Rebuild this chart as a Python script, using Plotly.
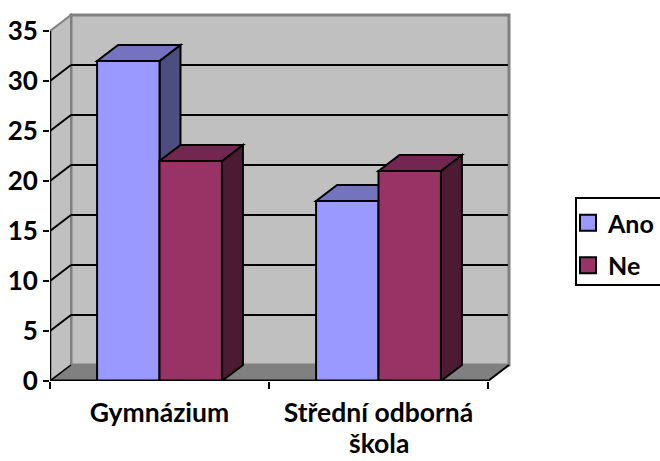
import plotly.graph_objects as go

categories = ["Gymnázium", "Střední odborná"]
category_second_line = "škola"
series_names = ["Ano", "Ne"]
ano_values = [32, 18]
ne_values = [22, 21]
y_ticks = [0, 5, 10, 15, 20, 25, 30, 35]

FONT = "Lato, 'Open Sans', sans-serif"
ANO, ANO_TOP, ANO_SIDE = "#9999FF", "#7373BF", "#4D4D80"
NE, NE_TOP, NE_SIDE = "#993366", "#732650", "#4D1A33"
WALL, FLOOR = "#C0C0C0", "#808080"

X0, X1 = -0.5, 1.5
DX, DY = 21 / 219, 1.6
BARGAP = 0.43
BW = (1 - BARGAP) / 2
FIG_W, FIG_H = 660, 461


def poly(pts, fill, line="black", width=2, layer="below"):
    path = "M" + " L".join(f"{x},{y}" for x, y in pts) + " Z"
    return dict(type="path", path=path, xref="x", yref="y", fillcolor=fill,
                line=dict(color=line, width=width), layer=layer)


def seg(x0, y0, x1, y1, color="black", width=2):
    return dict(type="line", x0=x0, y0=y0, x1=x1, y1=y1, xref="x", yref="y",
                line=dict(color=color, width=width), layer="below")


shapes = [
    poly([(X0 + DX, DY), (X1 + DX, DY), (X1 + DX, 35 + DY), (X0 + DX, 35 + DY)], WALL, FLOOR, 3),
    poly([(X0, 0), (X0 + DX, DY), (X0 + DX, 35 + DY), (X0, 35)], WALL, FLOOR, 2),
    poly([(X0, 0), (X0 + DX, DY), (X1 + DX, DY), (X1, 0)], FLOOR, FLOOR, 1),
    seg(X0, 0, X0 + DX, DY, "black", 1.5),
    seg(X1, 0, X1 + DX, DY, "black", 2),
]
for t in y_ticks[1:-1]:
    shapes.append(seg(X0, t, X0 + DX, t + DY))
    shapes.append(seg(X0 + DX, t + DY, X1 + DX - 0.005, t + DY))

for i, (a, n) in enumerate(zip(ano_values, ne_values)):
    for v, left, top, side in ((a, i - BW, ANO_TOP, ANO_SIDE), (n, i, NE_TOP, NE_SIDE)):
        right = left + BW
        shapes.append(poly([(right, 0), (right + DX, DY), (right + DX, v + DY), (right, v)], side))
        shapes.append(poly([(left, v), (left + DX, v + DY), (right + DX, v + DY), (right, v)], top))

# Legend frame: open at the right page edge, as in the reference.
shapes.append(dict(type="rect", xref="paper", yref="paper",
                   x0=(576 - 50) / 462, x1=(675 - 50) / 462,
                   y0=(381 - 285) / 371, y1=(381 - 198) / 371,
                   line=dict(color="black", width=2), fillcolor="rgba(0,0,0,0)", layer="above"))

x_index = list(range(len(categories)))
fig = go.Figure()
fig.add_trace(go.Bar(x=x_index, y=ano_values, name=series_names[0], showlegend=False,
                     marker=dict(color=ANO, line=dict(color="black", width=2)), hoverinfo="y"))
fig.add_trace(go.Bar(x=x_index, y=ne_values, name=series_names[1], showlegend=False,
                     marker=dict(color=NE, line=dict(color="black", width=2)), hoverinfo="y"))

# Axis lines (the front edges of the 3-D box)
fig.add_trace(go.Scatter(x=[X0, X1], y=[0, 0], mode="lines", cliponaxis=False, showlegend=False,
                         line=dict(color="black", width=3), hoverinfo="skip"))
fig.add_trace(go.Scatter(x=[X0, X0], y=[0, 35], mode="lines", cliponaxis=False, showlegend=False,
                         line=dict(color="black", width=2.5), hoverinfo="skip"))

# Legend entries
for name, color in zip(series_names, (ANO, NE)):
    fig.add_trace(go.Scatter(x=[None], y=[None], mode="markers", name=name, legendgroup=name,
                             marker=dict(symbol="square", size=16, color=color,
                                         line=dict(color="black", width=2))))

fig.update_layout(
    width=FIG_W, height=FIG_H,
    margin=dict(l=50, r=FIG_W - 512, t=10, b=FIG_H - 381, autoexpand=False),
    paper_bgcolor="white", plot_bgcolor="white",
    barmode="group", bargap=BARGAP, bargroupgap=0,
    font=dict(family=FONT, size=26, color="black"),
    shapes=shapes,
    xaxis=dict(range=[X0, X0 + 462 / 219], tickmode="array", tickvals=x_index, ticktext=categories,
               showgrid=False, zeroline=False, showline=False, ticks="", ticklabelstandoff=13,
               tickfont=dict(family=FONT, size=26.5, weight="bold"),
               minor=dict(tickmode="array", tickvals=[-0.5, 0.5, 1.5], ticks="outside",
                          ticklen=7, tickwidth=2, tickcolor="black", showgrid=False)),
    yaxis=dict(range=[0, 37.1], tickmode="array", tickvals=y_ticks, showgrid=False, zeroline=False,
               showline=False, ticks="outside", ticklen=6, tickwidth=2, tickcolor="black",
               tickfont=dict(family=FONT, size=26, weight="bold")),
    legend=dict(x=568 / FIG_W, xref="container", xanchor="left", y=1 - 200 / FIG_H, yref="container",
                yanchor="top", borderwidth=0, bgcolor="rgba(0,0,0,0)", tracegroupgap=7,
                font=dict(family=FONT, size=25, weight="bold"), itemsizing="trace", itemwidth=30),
    annotations=[dict(text=category_second_line, x=1, y=0, yref="y", xref="x", yanchor="bottom",
                      yshift=-80, showarrow=False,
                      font=dict(family=FONT, size=26.5, weight="bold"))],
)

fig.write_html("out.html", config={"displayModeBar": False},
               post_script="document.body.style.margin='0';document.documentElement.style.overflow='hidden';")
